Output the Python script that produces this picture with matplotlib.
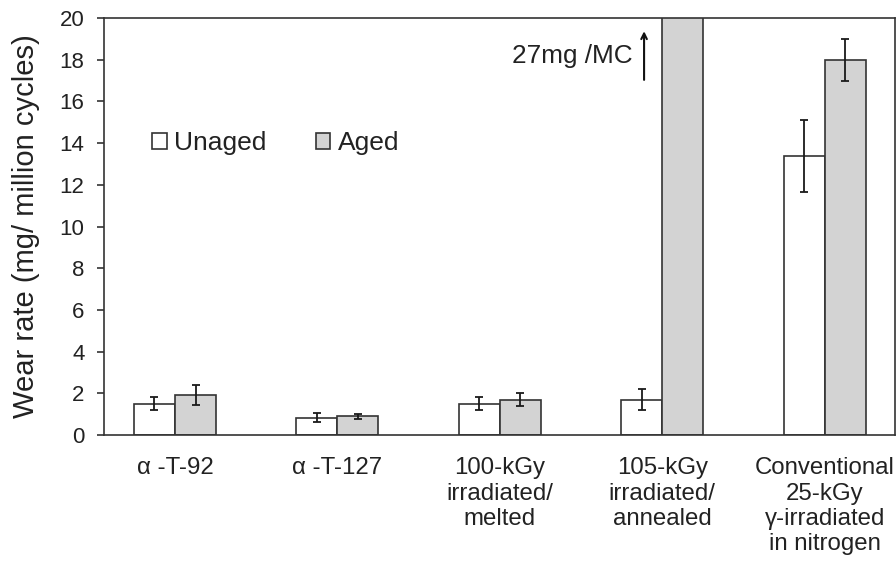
"""Wear rate of unaged vs aged materials."""
import numpy as np
import matplotlib
matplotlib.use("Agg")
import matplotlib.pyplot as plt
from matplotlib.patches import Patch

plt.rcParams["font.family"] = ["Liberation Sans", "DejaVu Sans"]

categories = [
    "\u03b1 -T-92",
    "\u03b1 -T-127",
    "100-kGy\nirradiated/\nmelted",
    "105-kGy\nirradiated/\nannealed",
    "Conventional\n25-kGy\n\u03b3-irradiated\nin nitrogen",
]
unaged = [1.5, 0.82, 1.5, 1.7, 13.4]
unaged_err = [0.32, 0.22, 0.32, 0.52, 1.73]
aged = [1.9, 0.9, 1.7, 27.0, 18.0]
aged_err = [0.48, 0.12, 0.32, 0.0, 1.0]
yticks = [0, 2, 4, 6, 8, 10, 12, 14, 16, 18, 20]

TXT = "#222222"
EDGE = "#333333"

fig = plt.figure(figsize=(8.96, 5.72), dpi=100)
ax = fig.add_axes([0.1161, 0.2395, 0.8828, 0.729])

x = np.arange(len(categories))
w = 0.2525
ax.bar(x - w / 2, unaged, w, color="white", edgecolor=EDGE, linewidth=1.2)
ax.bar(x + w / 2, aged, w, color="#d3d3d3", edgecolor=EDGE, linewidth=1.2)
ax.errorbar(x - w / 2, unaged, yerr=unaged_err, fmt="none", ecolor="#1a1a1a",
            elinewidth=1.3, capsize=2.8, capthick=1.3)
ax.errorbar(x + w / 2, aged, yerr=aged_err, fmt="none", ecolor="#1a1a1a",
            elinewidth=1.3, capsize=2.8, capthick=1.3)

ax.set_xlim(-0.437, 4.433)
ax.set_ylim(0, 20)
ax.set_yticks(yticks)
ax.set_xticks(x)
ax.set_xticklabels(categories, fontsize=17.3, color=TXT, linespacing=1.2)
ax.tick_params(axis="x", length=0, pad=16)
ax.tick_params(axis="y", direction="out", length=5, width=1.2, pad=9,
               labelsize=16, labelcolor=TXT, color=EDGE)
for s in ax.spines.values():
    s.set_linewidth(1.2)
    s.set_color(EDGE)

ax.set_ylabel("Wear rate (mg/ million cycles)", fontsize=21, color=TXT, labelpad=14)

# arrow showing the clipped aged bar value
ax.annotate("", xy=(2.888, 19.5), xytext=(2.888, 16.9),
            arrowprops=dict(arrowstyle="->", color="#111111", lw=1.5))
ax.text(2.82, 18.2, "27mg /MC", fontsize=18.8, color=TXT, ha="right", va="center")

handles = [Patch(facecolor="white", edgecolor=EDGE, linewidth=1.2),
           Patch(facecolor="#d3d3d3", edgecolor=EDGE, linewidth=1.2)]
ax.legend(handles, ["Unaged", "Aged"], ncol=2, frameon=False, fontsize=19,
          loc="center left", bbox_to_anchor=(0.0607, 0.70), borderaxespad=0,
          borderpad=0, handlelength=0.55, handleheight=0.55, handletextpad=0.3,
          columnspacing=1.85, labelcolor=TXT)

fig.savefig("out.png", dpi=100)
